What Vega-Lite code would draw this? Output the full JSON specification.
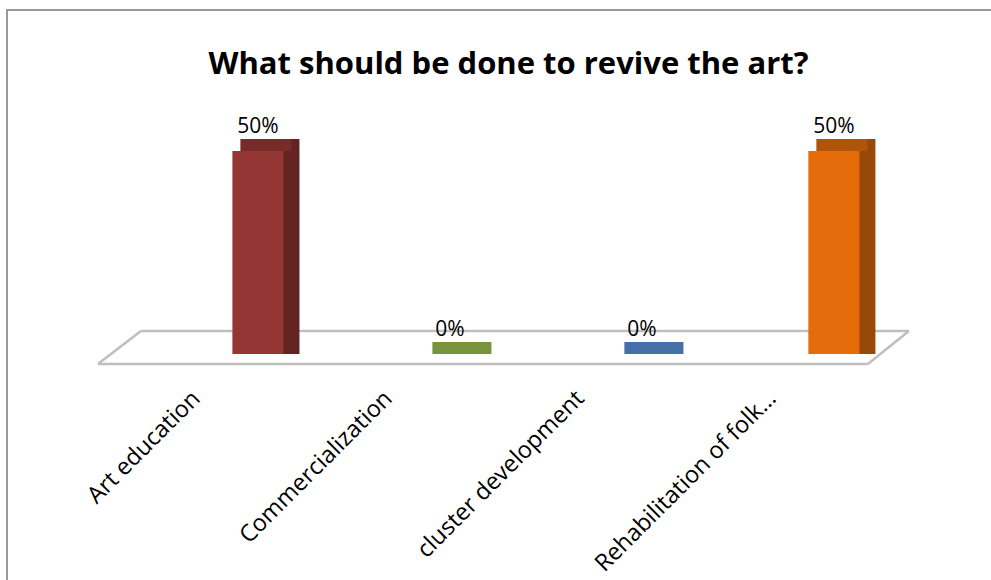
{
  "$schema": "https://vega.github.io/schema/vega-lite/v6.json",
  "width": 1011,
  "height": 590,
  "autosize": {"type": "none"},
  "padding": {"left": 7, "top": 10, "right": 0, "bottom": 0},
  "background": "white",
  "title": {
    "text": "What should be done to revive the art?",
    "font": "Open Sans",
    "fontSize": 31,
    "fontWeight": "bold",
    "color": "black",
    "anchor": "middle",
    "frame": "group",
    "baseline": "alphabetic",
    "offset": -95,
    "dx": -4
  },
  "config": {
    "view": {"stroke": "#9a9a9a", "strokeWidth": 2},
    "axisX": {
      "offset": -214,
      "domain": false,
      "ticks": false,
      "grid": false,
      "labelAngle": -45,
      "labelAlign": "right",
      "labelBaseline": "top",
      "labelOffset": -70,
      "labelPadding": 0,
      "labelFont": "Open Sans",
      "labelFontSize": 23.5,
      "labelColor": "black",
      "labelLimit": 500,
      "labelOverlap": false
    }
  },
  "data": {
    "values": [
      {"option": "Art education", "share": 0.5},
      {"option": "Commercialization", "share": 0},
      {"option": "cluster development", "share": 0},
      {"option": "Rehabilitation of folk…", "share": 0.5}
    ]
  },
  "resolve": {"scale": {"color": "independent"}},
  "layer": [
    {
      "data": {"values": [{}]},
      "mark": {"type": "rule", "color": "#bfbfbf", "strokeWidth": 2.5, "xOffset": -160, "x2Offset": 34, "yOffset": 10},
      "encoding": {
        "x": {"datum": "Art education", "type": "nominal", "title": null, "scale": {"domain": ["Art education", "Commercialization", "cluster development", "Rehabilitation of folk…"], "paddingInner": 0.734, "paddingOuter": 1, "align": 0.587}},
        "x2": {"datum": "Rehabilitation of folk…"},
        "y": {"datum": 0, "type": "quantitative", "axis": null, "scale": {"domain": [-0.606, 0.847], "nice": false, "zero": false}}
      }
    },
    {
      "data": {"values": [{}]},
      "mark": {"type": "rule", "color": "#bfbfbf", "strokeWidth": 2.5, "xOffset": -117, "x2Offset": 75, "yOffset": -23},
      "encoding": {
        "x": {"datum": "Art education", "type": "nominal", "title": null},
        "x2": {"datum": "Rehabilitation of folk…"},
        "y": {"datum": 0, "type": "quantitative", "axis": null}
      }
    },
    {
      "data": {"values": [{}]},
      "mark": {"type": "rule", "color": "#bfbfbf", "strokeWidth": 2.5, "xOffset": -160, "x2Offset": -117, "yOffset": 10, "y2Offset": -23},
      "encoding": {
        "x": {"datum": "Art education", "type": "nominal", "title": null},
        "x2": {"datum": "Art education"},
        "y": {"datum": 0, "type": "quantitative", "axis": null},
        "y2": {"datum": 0}
      }
    },
    {
      "data": {"values": [{}]},
      "mark": {"type": "rule", "color": "#bfbfbf", "strokeWidth": 2.5, "xOffset": 34, "x2Offset": 75, "yOffset": 10, "y2Offset": -23},
      "encoding": {
        "x": {"datum": "Rehabilitation of folk…", "type": "nominal", "title": null},
        "x2": {"datum": "Rehabilitation of folk…"},
        "y": {"datum": 0, "type": "quantitative", "axis": null},
        "y2": {"datum": 0}
      }
    },
    {
      "mark": {"type": "bar", "xOffset": 16, "yOffset": -12},
      "encoding": {
        "x": {"field": "option", "type": "nominal", "title": null},
        "y": {"field": "share", "type": "quantitative", "axis": null},
        "y2": {"datum": 0},
        "color": {"field": "option", "type": "nominal", "legend": null, "scale": {"domain": ["Art education", "Commercialization", "cluster development", "Rehabilitation of folk…"], "range": ["#632321", "#77933C", "#4470A7", "#984807"]}}
      }
    },
    {
      "mark": {"type": "bar", "xOffset": 8, "yOffset": -12},
      "encoding": {
        "x": {"field": "option", "type": "nominal", "title": null},
        "y": {"field": "share", "type": "quantitative", "axis": null},
        "y2": {"field": "share"},
        "color": {"field": "option", "type": "nominal", "legend": null, "scale": {"domain": ["Art education", "Commercialization", "cluster development", "Rehabilitation of folk…"], "range": ["#782c2a", "#77933C", "#4470A7", "#b0540a"]}}
      }
    },
    {
      "mark": {"type": "bar"},
      "encoding": {
        "x": {"field": "option", "type": "nominal", "title": null},
        "y": {"field": "share", "type": "quantitative", "axis": null},
        "y2": {"datum": 0},
        "color": {"field": "option", "type": "nominal", "legend": null, "scale": {"domain": ["Art education", "Commercialization", "cluster development", "Rehabilitation of folk…"], "range": ["#943634", "#77933C", "#4470A7", "#E46C0A"]}}
      }
    },
    {
      "mark": {"type": "text", "dy": -18, "baseline": "alphabetic", "font": "Open Sans", "fontSize": 21, "color": "black"},
      "encoding": {
        "x": {"field": "option", "type": "nominal", "title": null},
        "y": {"field": "share", "type": "quantitative", "axis": null},
        "text": {"field": "share", "type": "quantitative", "format": ".0%"}
      }
    }
  ]
}
